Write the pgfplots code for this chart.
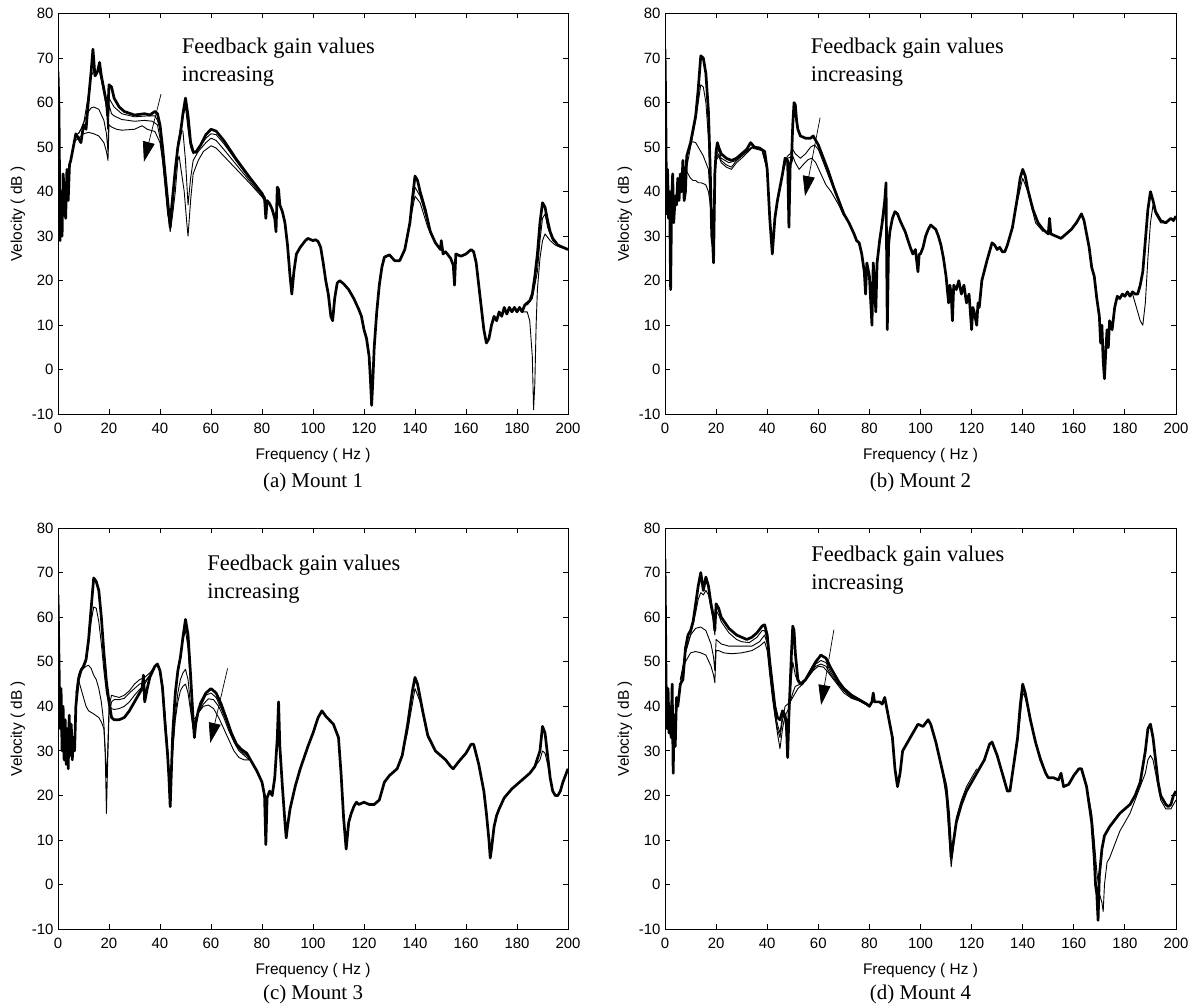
\documentclass[border=0pt]{standalone}
\usepackage{fontspec}
\setmainfont{Liberation Serif}
\setsansfont{Liberation Sans}
\usepackage{pgfplots}
\pgfplotsset{compat=1.18}
\usetikzlibrary{arrows.meta}

\pgfplotsset{
  mount/.style={
    anchor=south west, scale only axis,
    xmin=0,xmax=200,ymin=-10,ymax=80,
    xtick={0,20,...,200}, ytick={-10,0,...,80},
    tick align=inside, xtick pos=both, ytick pos=both,
    xticklabel pos=lower, yticklabel pos=left,
    major tick length=5bp,
    axis line style={line width=0.9bp},
    every tick/.style={line width=0.9bp, black},
    /pgf/number format/assume math mode=true,
    ticklabel style={font=\fontsize{15}{17}\sffamily},
    xticklabel style={yshift=-5bp},
    yticklabel style={xshift=-1bp},
    label style={font=\fontsize{15.5}{18}\sffamily},
    xlabel style={yshift=-8bp},
    xlabel={Frequency ( Hz )}, ylabel={Velocity ( dB )},
  },
  bigline/.style={black, line width=2.7bp, line join=round},
  smallline/.style={black, line width=0.9bp, line join=round},
}
\newcommand{\annfont}{\fontsize{22.5}{27}\selectfont}
\newcommand{\capfont}{\fontsize{21}{24}\selectfont}

\begin{document}
\begin{tikzpicture}
\path[use as bounding box] (0,0) rectangle (1196bp,1006bp);

%================ (a) =================
\begin{axis}[mount, at={(58bp,591.7bp)}, width=510bp, height=400.8bp]
\addplot[smallline] coordinates {(8,53) (10,55) (12,62) (13,66) (14,67) (15,66) (16,67.5) (17,65) (18,62) (19,59) (19.5,54) (20,61) (21,60) (22,59) (25,57.5) (30,56.8) (35,57) (38,57) (39,56) (40,54) (41,49) (42,44) (43,37) (44,33) (45,37) (46,44) (47,50) (48,54) (49,57) (50,59) (51,54) (52,50) (53,48.5) (55,49.5) (58,52) (60,53) (62,52.8) (65,50.8) (70,46.8) (75,43) (80,39.5) (82,37)};
\addplot[smallline] coordinates {(7,53) (8,53) (9,54) (10,55.5) (12,58) (13,58.8) (14,59) (16,58.5) (18,56) (19,53) (19.6,49) (20,59.5) (21,57.5) (22,57) (25,56.2) (30,55.8) (34,56) (37,55.8) (39,55) (40,52) (41,47) (42,41) (43,35) (44,32) (45,37) (46,44) (47,51) (48,54) (49,53.5) (50,47) (51,37) (52,43) (53,47) (55,49) (58,51) (60,52) (62,51.5) (65,49.5) (70,46) (75,42.5) (80,39) (82,37)};
\addplot[smallline] coordinates {(6,51) (8,52) (10,53) (12,53.3) (14,53) (16,52.5) (18,51) (19,49) (19.6,47) (20,55) (21,54.5) (23,54) (25,53.8) (30,54) (33,54.8) (35,54) (38,53.5) (40,51) (41,47) (42,42) (43,36) (44,31) (45,35) (46,40) (47,47) (47.5,48) (48.5,44) (49.5,40) (50.5,33) (51,30) (52,38) (53,44) (55,47) (57,49) (60,50.3) (62,49.8) (65,48) (70,45) (75,42) (80,38.8) (82,37)};
\addplot[smallline] coordinates {(134,24.5) (136,27) (138,33.5) (140,41) (142,39) (145,33) (148,28.5)};
\addplot[smallline] coordinates {(134,24.5) (136,27) (138,33) (140,39) (142,37.5) (145,32) (148,28.5)};
\addplot[smallline] coordinates {(182,13) (184,13) (185,11) (186,3) (186.5,-9) (187,-3) (187.5,10) (188,18) (189,25) (190,29) (191,30.5) (193,29) (195,28) (197,27.5) (200,27)};
\addplot[smallline] coordinates {(184,14.5) (186,16) (188,22) (189,29) (190,34) (191,35) (192,32) (194,29) (196,28) (200,27)};
\addplot[bigline] coordinates {(0,67) (0.4,58) (0.8,29) (1.2,40) (1.6,30) (2,44) (2.5,40) (3,34) (3.5,45) (4,38) (4.5,46) (5,47) (6,50) (7,53) (8,52) (9,51) (10,55) (11,54) (12,61) (13,67) (13.7,72) (14.5,66) (15.5,67) (16.3,69) (17,66) (18,63) (19,60) (19.5,57) (20,64) (21,63.5) (22,61) (24,59) (26,58) (30,57.2) (34,57.5) (36,57.2) (38,58) (39,57.5) (40,55) (41,50) (42,44) (43,38) (44,32) (44.5,36) (45,39) (46,45) (47,50) (48,53) (49,57.5) (50,61) (51,57) (52,51) (53,49) (54,48.8) (56,50.5) (58,52.8) (60,54) (62,53.6) (65,51.5) (70,47.2) (75,43.3) (80,39.6) (81,38.5) (81.5,34) (82,38) (83,37.3) (84,36) (85,34) (85.5,31) (86,41) (86.5,40.5) (87,37) (88,35.5) (89,33) (90,28) (91,21) (91.7,17) (92.5,22) (93.5,26) (95,27.5) (97,29) (98,29.5) (100,29) (101,29.2) (102,28.8) (103,27.5) (104,24) (105,20) (106,17) (107,12) (107.7,11) (108.5,16) (109.5,19.5) (110.5,20) (112,19.3) (114,18) (116,16) (118,13.5) (119,12) (120,9) (121,7) (122,3) (122.5,-2) (123,-8) (123.5,-2) (124,5) (125,13) (126,19) (127,23) (128,25.3) (130,25.8) (132,24.5) (134,24.5) (136,27) (138,33) (139,38.5) (140,43.5) (141,42.5) (142,40) (144,36) (146,31) (148,28.5) (150,27) (150.3,29) (151,26) (152,26.5) (154,25) (155,23.5) (155.5,19) (156,26) (158,25.5) (160,26) (162,27) (163,26.5) (164,24) (165,19) (166,14) (167,9) (168,6) (169,7) (170,10) (171,12) (172,11) (173,13) (174,12) (175,14) (176,12.5) (177,14) (178,13) (179,14) (180,13) (181,14) (182,13) (183,14.5) (184,15) (185,15.5) (186,17) (187,21) (188,26) (189,33) (190,37.5) (191,36.5) (192,33.5) (193,31) (194,29.5) (196,28) (198,27.5) (200,27)};
\node[anchor=base west, inner sep=0, font=\annfont] at (axis cs:48.5,71.1) {Feedback gain values};
\node[anchor=base west, inner sep=0, font=\annfont] at (axis cs:48.5,64.7) {increasing};
\draw[line width=0.7bp, -{Triangle[length=20bp,width=12bp]}] (axis cs:40.4,61.9) -- (axis cs:33.7,46.7);
\end{axis}

%================ (b) =================
\begin{axis}[mount, at={(665bp,591.7bp)}, width=511bp, height=400.8bp]
\addplot[smallline] coordinates {(8,44) (9,47) (10,50) (11,53) (12,56) (13,60) (14,64) (15,63.5) (16,60) (17,52) (18,40) (18.5,30) (19,26) (19.5,42) (20,48) (21,49.5) (22,47.5) (25,46.5) (28,47) (30,48) (34,50) (38,49.3) (40,45)};
\addplot[smallline] coordinates {(6,42) (8,46) (9,49) (10,51) (11,51.2) (12,51) (13,50) (14,49) (15,48) (16,46.5) (17,45) (18,35) (18.5,28) (19,30) (19.5,44) (20,47.5) (21,48.5) (22,47) (24,46) (26,45.5) (28,47) (30,48) (34,50) (38,49.3) (40,45)};
\addplot[smallline] coordinates {(6,42) (7,46) (8,45) (9,44) (10,43) (11,42.5) (12,42.5) (13,42) (14,42) (15,41.8) (16,41.5) (17,40) (18,36) (18.5,29) (19,34) (19.5,44) (20,47) (21,48) (22,46.5) (24,45.5) (26,45) (28,46.5) (30,47.5) (34,49.8) (38,49.2) (40,45)};
\addplot[smallline] coordinates {(46,45) (47,47) (48,48) (49,48.5) (50,49.5) (51,48.5) (53,47.5) (55,48.5) (57,50) (58.5,50.5) (60,49.5) (62,46.5) (65,42) (68,38) (70,35)};
\addplot[smallline] coordinates {(46,44) (47,46) (48,47.5) (50,48) (51,46.5) (52.5,45) (54,46) (56,47.2) (57.5,47.5) (59,46.5) (61,44) (63,41.5) (65,40) (68,37) (70,34.5)};
\addplot[smallline] coordinates {(136,32) (138,38) (140,43) (142,40) (145,33) (148,31)};
\addplot[smallline] coordinates {(183,17) (185,13) (186,11) (187,10) (188,15) (189,25) (190,33) (191,37) (192,35) (194,33) (196,33)};
\addplot[bigline] coordinates {(0,72) (0.3,58) (0.6,35) (1,45) (1.4,34) (1.8,40) (2.2,18) (2.6,38) (3,44) (3.4,33) (4,39) (4.5,37) (5,43) (5.5,38) (6,44) (6.5,40) (7,47) (7.5,38) (8,40) (8.5,48) (9,49) (10,51) (11,54) (12,57) (13,63) (14,70.5) (15,70) (16,66.5) (17,58) (17.7,45) (18.3,30) (18.7,28) (19,24) (19.5,44) (20,49) (20.5,51) (21,50) (22,48.5) (24,47.5) (26,47) (28,47.5) (30,48.5) (32,49.5) (33.5,51) (35,50) (37,49.8) (39,49) (40,45) (41,34) (42,26) (43,34) (44,38) (45,41) (46,44) (47,47.5) (48,47) (48.5,32) (49,46) (49.5,47) (50,55) (50.5,60) (51,59.5) (51.5,56) (52,54) (53,52.5) (55,52) (57,52) (58,52.5) (59,51.5) (60,50.5) (62,47.5) (64,44.5) (66,41) (68,38) (70,35) (72,33) (74,30.5) (75,29) (76,28.5) (77,26) (78,22) (78.5,17) (79,24) (80,21) (81,10) (81.5,24) (82,20) (82.5,13) (83,24) (84,29) (85,33) (86,38) (86.5,42) (87,9) (87.5,28) (88,31) (89,34) (90,35.5) (91,35) (92,33.5) (94,31) (96,27.5) (97,26) (98,27) (99,22) (99.5,26) (100,26) (101,27.5) (102,30) (103,31.5) (104,32.5) (105,32) (106,31.5) (107,30) (108,28) (109,25) (110,21) (111,15) (111.5,19) (112,17) (112.5,11) (113,19) (114,18) (115,20) (116,17) (117,19) (118,15) (119,17) (120,9) (120.5,14) (121,13) (122,10) (122.5,15) (123,14) (124,20) (126,24.5) (128,28.5) (129,28) (130,27) (131,27.5) (132,26.5) (133,26.5) (134,28) (136,32) (138,39) (139,43) (140,45) (141,43.5) (142,40.5) (144,36) (146,33) (148,31.5) (150,30.5) (150.5,34) (151,30.5) (153,30) (155,29.5) (157,30.5) (159,31.5) (161,33) (162,34) (163,35) (164,33.5) (166,27.5) (167,23) (168,21) (169,16) (170,12) (170.5,6) (171,10) (171.5,2) (172,-2) (172.5,4) (173,9) (173.5,5) (174,11) (175,9) (176,14) (177,16.5) (178,16) (179,17) (180,16.5) (181,17.5) (182,16.5) (183,17.5) (184,17) (185,17) (186,19) (187,22) (188,29) (189,36) (190,40) (191,38) (192,35.5) (194,33.5) (196,33) (198,34) (199,33.5) (200,34.5)};
\node[anchor=base west, inner sep=0, font=\annfont] at (axis cs:57,71.1) {Feedback gain values};
\node[anchor=base west, inner sep=0, font=\annfont] at (axis cs:57,64.7) {increasing};
\draw[line width=0.7bp, -{Triangle[length=20bp,width=12bp]}] (axis cs:60.7,56.6) -- (axis cs:54.8,39.0);
\end{axis}

%================ (c) =================
\begin{axis}[mount, at={(58bp,76.7bp)}, width=510bp, height=401.3bp]
\addplot[smallline] coordinates {(7,40) (8,45) (9,48) (10,48.5) (11,50) (12,54) (13,59) (14,62.3) (15,62) (16,59) (17,54) (18,48) (19,43) (20,40.5) (21,39.5) (22,39.3) (24,39.5) (26,40) (28,41) (30,42.5) (32,43.8) (34,45) (36,47) (38,49) (39,49.3) (40,48) (42,38) (43,30) (44,22) (45,32) (46,42) (47,47) (48,51) (49,55) (50,57) (51,53) (52,45) (53,37) (54,37.5) (56,40) (58,42.5) (60,43) (62,42) (64,39.5) (66,36.8) (68,33.5) (70,31) (72,29.8) (75,28.5)};
\addplot[smallline] coordinates {(7,43) (8,47) (9,48.5) (10,48.5) (11,49) (12,49.2) (13,48.5) (14,47) (15,46) (16,44) (17,41) (18,36) (18.5,30) (19,24) (19.5,30) (20,40) (21,42.5) (22,42.3) (24,42) (26,42.5) (28,43.5) (30,45) (32,46) (34,46.5) (36,47.5) (38,49) (39,49.3) (40,48) (41,45) (42,38) (43,30) (44,20) (45,30) (46,38) (47,43) (48,46) (49,47.5) (50,48.3) (51,46) (52,40) (53,35) (54,37) (55,38.5) (57,40.5) (59,41.7) (61,41.5) (63,40) (65,37.5) (67,34.5) (69,32) (71,30) (73,29) (75,28)};
\addplot[smallline] coordinates {(7,42) (8,46) (9,44) (10,42) (11,40) (12,39) (14,38.3) (16,37.5) (17,36.5) (18,35) (18.5,30) (19,16) (19.5,28) (20,38) (21,41) (22,41.5) (24,41.5) (26,41.8) (28,43) (30,44) (32,45) (34,45.5) (36,47) (38,49) (39,49.3) (40,48) (41,45) (42,37) (43,28) (44,22) (45,30) (46,37) (47,41) (48,43.5) (49,44.5) (50,45) (51,43) (52,39) (53,35) (54,37) (55,38.5) (57,40) (59,40.3) (61,39.5) (63,37.5) (65,35) (67,32.5) (69,30) (71,28.5) (73,28) (75,28)};
\addplot[smallline] coordinates {(135,29) (137,34) (140,44) (142,41) (145,33) (148,30)};
\addplot[smallline] coordinates {(187,26.5) (189,28) (190,30) (191,29.5) (192,27) (193,24) (194,21)};
\addplot[bigline] coordinates {(0,65) (0.4,50) (0.8,35) (1.2,44) (1.6,30) (2,40) (2.4,28) (2.8,37) (3.2,27) (3.6,35) (4,26) (4.4,38) (4.8,29) (5.2,36) (5.6,28) (6,33) (6.5,30) (7,40) (8,46) (9,48) (10,49) (11,50.5) (12,55) (13,62) (14,68.8) (15,68) (16,66) (17,60) (18,52) (19,45.5) (20,41) (21,37.5) (22,37) (24,37) (26,37.5) (28,39) (30,41) (32,43) (33,44) (33.5,47) (34,41) (35,44) (36,46.5) (38,49) (39,49.5) (40,48) (41,44) (42,36) (43,29) (43.5,24) (44,17.5) (44.5,26) (45,34) (46,43) (47,48) (48,51) (49,55.5) (50,59.5) (51,56) (52,47) (53,37) (53.5,33) (54,36) (55,39) (56,40.8) (58,43) (60,44) (62,43) (64,40.5) (66,37.3) (68,34) (70,31.5) (72,30.3) (74,29.5) (76,27.5) (78,25.5) (80,23) (81,20) (81.5,9) (82,19.5) (83,21) (84,20) (85,24) (86,33) (86.5,41) (87,31) (88,22) (89,14) (89.5,10.5) (90,13) (91,17) (93,22) (95,26) (98,31) (100,34) (102,37.5) (103.5,39) (105,37.8) (108,36) (110,33) (111,25) (112,15) (113,8) (114,14) (115,16) (116,17.5) (117,18.5) (118,18) (120,18.5) (122,18) (124,18) (126,19) (128,23) (130,24.5) (133,26) (135,29) (137,35.5) (139,43.5) (140,46.5) (141,45) (143,39) (145,33.5) (148,30) (150,29) (152,28) (154,26.5) (155,26) (157,27.5) (160,29.5) (162,31.5) (163,31.5) (165,27) (167,21) (168,16) (169,10) (169.5,6) (170,8) (171,13) (172,15.5) (173,17) (175,19.5) (178,21.5) (180,22.5) (183,24) (185,25) (187,26.5) (189,30) (190,35.5) (191,34) (192,29) (193,24) (194,21) (195,20) (196,20) (197,21) (198,23) (200,26)};
\node[anchor=base west, inner sep=0, font=\annfont] at (axis cs:58.5,70.5) {Feedback gain values};
\node[anchor=base west, inner sep=0, font=\annfont] at (axis cs:58.5,64.1) {increasing};
\draw[line width=0.7bp, -{Triangle[length=20bp,width=12bp]}] (axis cs:66.5,48.5) -- (axis cs:59.7,31.8);
\end{axis}

%================ (d) =================
\begin{axis}[mount, at={(665bp,76.7bp)}, width=511bp, height=401.3bp]
\addplot[smallline] coordinates {(6,45) (8,52) (10,56) (12,61) (13,64) (14,65.5) (15,65) (16,66) (17,65) (18,62) (19,59) (19.5,56) (20,61.5) (21,60.5) (22,59) (25,56.5) (28,55) (30,54.5) (33,54.3) (36,55.5) (38,57) (39,57) (40,55) (41,49) (42,44) (43,39) (44,36) (45,34) (46,38) (47,37) (48,30) (48.5,37) (49,43) (50,50) (51,47) (52,45.5) (53,45) (55,46) (57,47.5) (59,49.5) (61,50.3) (63,49.8) (65,47.5) (68,45) (70,43.5) (73,42) (76,41.3) (80,40)};
\addplot[smallline] coordinates {(6,46) (8,52) (10,56) (12,57.5) (14,57.8) (16,57) (18,54) (19,51) (19.5,48) (20,55) (21,54.5) (22,54) (25,53.5) (30,53.5) (34,53.5) (37,54.5) (39,56) (40,54) (41,48) (42,43) (43,38) (44,34) (45,30.5) (46,35) (47,38) (48,39) (49,41) (50,43) (51,44.5) (53,45) (55,46) (57,47.5) (59,49) (61,49.5) (63,49) (65,47) (68,44.8) (70,43.5) (73,42) (76,41.3) (80,40)};
\addplot[smallline] coordinates {(6,46) (8,50) (10,52) (12,52.3) (14,52) (16,51.5) (18,49) (19,47) (19.5,45.3) (20,52.5) (21,52.5) (23,52) (26,51.8) (30,52) (34,52.5) (37,53.5) (39,54.5) (40,52.5) (41,47) (42,42) (43,38) (44,35) (45,33) (46,37) (47,40) (48,40.5) (49,41) (50,42) (52,44) (54,45) (56,46.5) (58,48) (60,49) (62,48.8) (64,47.5) (66,46) (68,44.5) (70,43) (73,41.8) (76,41.2) (80,40)};
\addplot[smallline] coordinates {(108,27) (110,20) (111,12) (112,4) (113,9) (114,15) (116,19) (118,22) (120,24) (122,26)};
\addplot[smallline] coordinates {(136,25) (138,32) (140,43) (141,42) (143,37) (146,30) (148,27)};
\addplot[smallline] coordinates {(165,22) (167,16) (168,10) (169,3) (170,-2) (171,-4) (171.5,-6) (172,0) (173,5) (174,6) (176,9) (178,12) (180,14) (182,16) (184,19) (186,22) (188,25) (189,28) (190,29) (191,28) (192,25) (194,19) (196,17) (198,17) (200,19)};
\addplot[bigline] coordinates {(0,73) (0.4,46) (0.8,35) (1.2,44) (1.6,34) (2,40) (2.4,33) (2.8,45) (3.2,25) (3.6,38) (4,31) (4.5,42) (5,40) (6,45) (7,46) (8,53) (9,56) (10,57) (11,59) (12,63) (13,67) (14,70) (15,66) (16,69) (17,67) (18,63) (19,60) (19.5,57) (20,63) (21,62) (22,60) (25,57.5) (28,56) (30,55.5) (32,55) (34,55.5) (36,56.5) (38,58) (39,58.3) (40,56) (41,50) (42,45) (43,40) (44,37.5) (45,37) (46,39) (47,38) (47.5,36) (48,28.5) (48.5,38) (49,45) (49.5,52) (50,58) (50.5,57) (51,52) (52,46) (53,45) (55,46) (57,48) (59,50) (61,51.5) (63,50.8) (65,48.5) (68,45.5) (70,44) (73,42.5) (76,41.5) (79,40.5) (80,40) (81,41) (81.5,43) (82,41) (84,41) (85,40.5) (86,42) (87,39) (88,36) (89,33) (90,26) (91,22) (92,25) (93,30) (95,32) (97,34) (99,36) (101,35.5) (103,37) (104,36) (106,32) (108,27) (110,22) (111,16) (112,6) (113,10) (114,14) (116,18) (118,21) (120,23) (122,25) (125,28) (127,31.5) (128,32) (130,29) (132,25) (134,21) (135,21) (136,25) (138,33) (139,40) (140,45) (141,43) (143,37) (145,32) (147,28) (149,25) (150,24) (152,24) (154,23.5) (155,25) (156,22) (158,22.5) (160,24.5) (162,26) (163,26) (165,22) (167,14) (168,6) (168.5,0) (169,-2) (169.5,-8) (170,2) (171,8) (172,11) (174,13) (176,14.5) (178,16) (180,17) (182,18) (184,20) (186,23) (188,30) (189,35) (190,36) (191,33) (192,28) (193,23) (194,20) (196,18) (197,17.5) (198,18) (199,20) (200,21)};
\node[anchor=base west, inner sep=0, font=\annfont] at (axis cs:57.2,72.5) {Feedback gain values};
\node[anchor=base west, inner sep=0, font=\annfont] at (axis cs:57.2,66.2) {increasing};
\draw[line width=0.7bp, -{Triangle[length=20bp,width=12bp]}] (axis cs:66.1,57.2) -- (axis cs:61.1,40.3);
\end{axis}

%================ captions =================
\node[font=\capfont] at (313bp,524bp) {(a) Mount 1};
\node[font=\capfont] at (920.5bp,524bp) {(b) Mount 2};
\node[font=\capfont] at (313bp,12bp) {(c) Mount 3};
\node[font=\capfont] at (920.5bp,12bp) {(d) Mount 4};
\end{tikzpicture}
\end{document}
